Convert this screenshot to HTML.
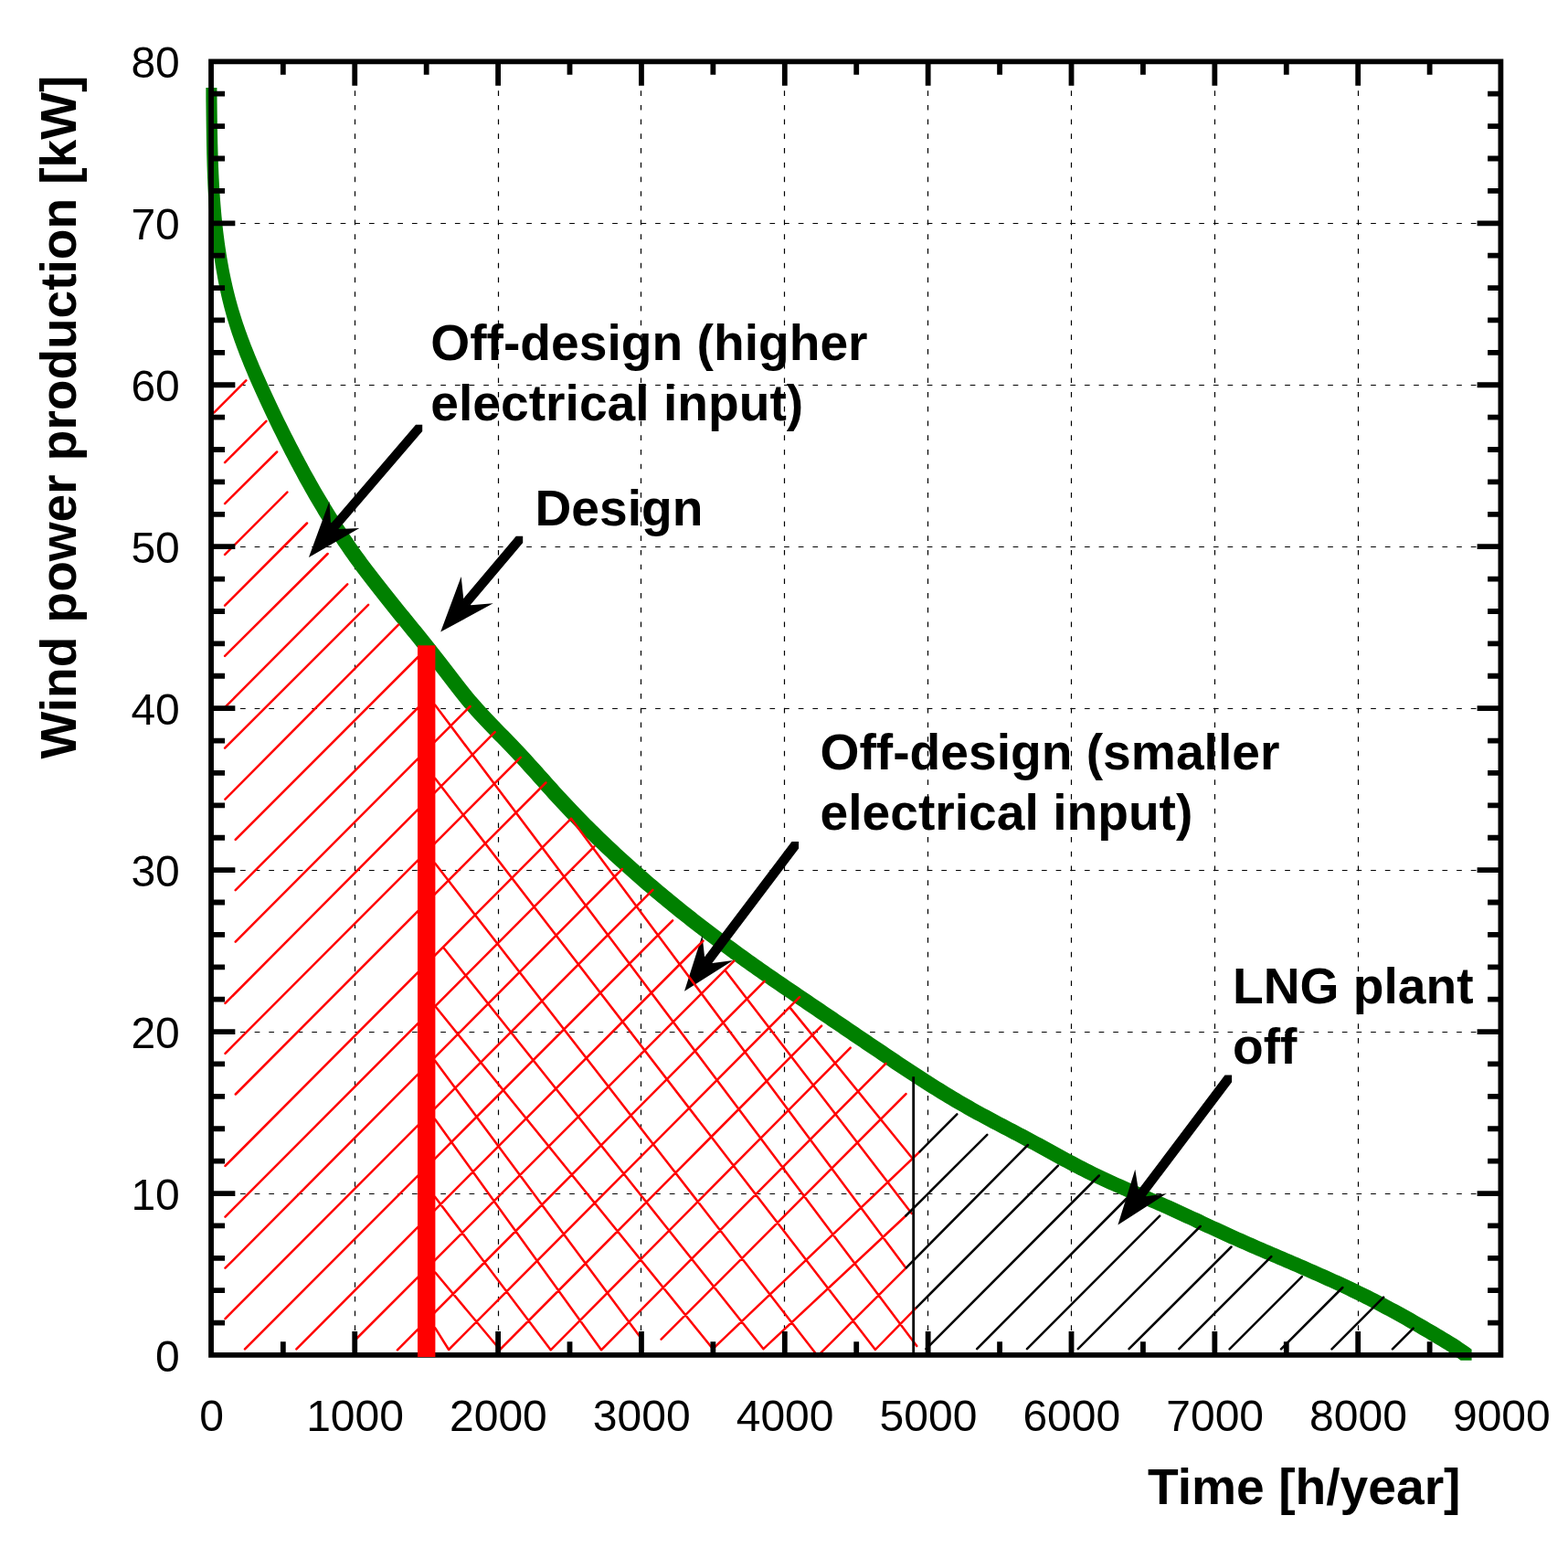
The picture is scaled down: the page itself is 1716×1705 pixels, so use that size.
<!DOCTYPE html><html><head><meta charset="utf-8"><title>Wind power production vs time</title><style>html,body{margin:0;padding:0;background:#fff}svg{display:block}text{font-family:"Liberation Sans",Arial,Helvetica,sans-serif}</style></head><body>
<svg width="1716" height="1705" viewBox="0 0 1716 1705">
<rect width="1716" height="1705" fill="#fff"/>
<path d="M388.5 67.78V1482.9M545.5 67.78V1482.9M701.5 67.78V1482.9M858.5 67.78V1482.9M1015.5 67.78V1482.9M1172.5 67.78V1482.9M1329.5 67.78V1482.9M1486.5 67.78V1482.9" stroke="#000" stroke-width="1.2" stroke-dasharray="5.7 10.01" fill="none"/>
<path d="M231.68 1306.5H1642.4M231.68 1129.5H1642.4M231.68 952.5H1642.4M231.68 775.5H1642.4M231.68 598.5H1642.4M231.68 421.5H1642.4M231.68 244.5H1642.4" stroke="#000" stroke-width="1.2" stroke-dasharray="5.7 9.96" fill="none"/>
<path d="M225.71 136.74L225.76 140.86L225.82 144.98L225.87 149.11L225.94 153.24L226.01 157.38L226.09 161.51L226.17 165.65L226.26 169.79L226.37 173.93L226.48 178.08L226.6 182.22L226.73 186.37L226.87 190.51L227.03 194.66L227.2 198.8L227.38 202.95L227.57 207.09L227.79 211.23L228.01 215.38L228.26 219.52L228.52 223.65L228.8 227.79L229.09 231.93L229.41 236.06L229.75 240.19L230.1 244.31L230.48 248.44L230.88 252.56L231.31 256.67L231.76 260.78L232.23 264.89L232.72 268.99L233.25 273.09L233.79 277.18L234.37 281.27L234.97 285.35L235.6 289.43L236.27 293.5L236.96 297.56L237.68 301.62L238.43 305.67L239.21 309.71L240.03 313.74L240.88 317.77L241.77 321.79L242.69 325.8L243.64 329.8L244.63 333.79L245.66 337.77L246.73 341.75L247.83 345.71L248.97 349.66L250.15 353.61L251.38 357.54L252.63 361.46L253.93 365.38L255.26 369.28L256.62 373.18L258.01 377.06L259.44 380.94L260.89 384.81L262.37 388.66L263.88 392.51L265.41 396.36L266.96 400.19L268.54 404.01L270.14 407.83L271.76 411.64L273.39 415.44L275.04 419.23L276.71 423.02L278.39 426.8L280.08 430.57L281.79 434.34L283.5 438.1L285.23 441.85L286.97 445.6L288.71 449.33L290.47 453.07L292.24 456.8L294.01 460.52L295.8 464.23L297.6 467.95L299.41 471.65L301.23 475.35L303.06 479.05L304.91 482.74L306.76 486.43L308.62 490.11L310.5 493.78L312.38 497.46L314.28 501.12L316.19 504.79L318.11 508.44L320.04 512.09L321.99 515.73L323.95 519.37L325.92 523L327.9 526.63L329.9 530.24L331.91 533.85L333.94 537.45L335.98 541.04L338.03 544.63L340.1 548.2L342.19 551.77L344.28 555.33L346.4 558.87L348.53 562.41L350.67 565.94L352.84 569.46L355.01 572.97L357.21 576.46L359.42 579.95L361.65 583.42L363.9 586.88L366.16 590.34L368.44 593.77L370.74 597.2L373.06 600.61L375.4 604.01L377.75 607.4L380.13 610.78L382.52 614.14L384.93 617.48L387.36 620.82L389.81 624.14L392.27 627.45L394.75 630.75L397.24 634.05L399.74 637.33L402.26 640.6L404.79 643.86L407.33 647.12L409.88 650.37L412.44 653.61L415.01 656.85L417.58 660.08L420.17 663.3L422.76 666.53L425.35 669.74L427.95 672.96L430.55 676.17L433.16 679.38L435.76 682.59L438.37 685.79L440.98 689L443.59 692.21L446.2 695.41L448.8 698.62L451.4 701.83L454 705.04L456.6 708.26L459.19 711.48L461.77 714.7L464.35 717.93L466.91 721.17L469.47 724.4L472.03 727.65L474.57 730.9L477.1 734.16L479.61 737.43L482.12 740.71L484.62 743.99L487.11 747.28L489.6 750.56L492.11 753.84L494.62 757.1L497.16 760.35L499.71 763.59L502.3 766.79L504.92 769.97L507.58 773.13L510.26 776.26L512.97 779.37L515.71 782.46L518.48 785.52L521.27 788.56L524.08 791.58L526.91 794.59L529.77 797.57L532.63 800.55L535.51 803.51L538.4 806.46L541.3 809.41L544.19 812.36L547.08 815.31L549.96 818.27L552.84 821.24L555.7 824.22L558.54 827.22L561.37 830.23L564.18 833.26L566.98 836.3L569.76 839.35L572.54 842.41L575.31 845.47L578.07 848.55L580.83 851.62L583.58 854.71L586.33 857.79L589.09 860.87L591.84 863.95L594.6 867.03L597.36 870.1L600.13 873.17L602.91 876.23L605.69 879.27L608.49 882.31L611.3 885.34L614.13 888.35L616.96 891.35L619.81 894.34L622.67 897.32L625.54 900.29L628.42 903.25L631.31 906.19L634.22 909.13L637.13 912.05L640.06 914.96L643 917.86L645.95 920.75L648.91 923.63L651.88 926.5L654.86 929.35L657.85 932.2L660.85 935.04L663.86 937.86L666.88 940.68L669.91 943.48L672.96 946.27L676.01 949.06L679.07 951.83L682.14 954.59L685.22 957.34L688.31 960.09L691.4 962.82L694.51 965.54L697.63 968.25L700.75 970.96L703.89 973.65L707.03 976.33L710.18 979L713.34 981.67L716.5 984.32L719.68 986.97L722.86 989.6L726.05 992.23L729.25 994.84L732.46 997.45L735.67 1000.05L738.89 1002.64L742.12 1005.22L745.36 1007.79L748.6 1010.35L751.85 1012.9L755.11 1015.44L758.37 1017.98L761.65 1020.51L764.92 1023.02L768.21 1025.53L771.5 1028.03L774.79 1030.53L778.09 1033.01L781.4 1035.49L784.72 1037.95L788.04 1040.41L791.36 1042.86L794.69 1045.31L798.03 1047.74L801.37 1050.17L804.72 1052.59L808.07 1055L811.43 1057.4L814.79 1059.8L818.15 1062.19L821.53 1064.57L824.9 1066.94L828.28 1069.3L831.67 1071.66L835.06 1074.01L838.45 1076.35L841.85 1078.69L845.25 1081.02L848.66 1083.34L852.07 1085.66L855.48 1087.98L858.89 1090.29L862.3 1092.61L865.72 1094.92L869.13 1097.23L872.54 1099.54L875.96 1101.85L879.37 1104.17L882.78 1106.48L886.2 1108.79L889.61 1111.11L893.02 1113.42L896.44 1115.73L899.85 1118.05L903.27 1120.36L906.68 1122.68L910.1 1124.99L913.51 1127.31L916.93 1129.62L920.34 1131.94L923.76 1134.25L927.18 1136.56L930.6 1138.88L934.02 1141.19L937.44 1143.5L940.86 1145.81L944.28 1148.13L947.7 1150.44L951.12 1152.75L954.54 1155.06L957.97 1157.37L961.4 1159.67L964.82 1161.98L968.25 1164.28L971.68 1166.58L975.12 1168.88L978.55 1171.17L982 1173.46L985.44 1175.74L988.89 1178.01L992.34 1180.28L995.8 1182.54L999.26 1184.79L1002.73 1187.03L1006.21 1189.26L1009.69 1191.49L1013.17 1193.7L1016.67 1195.9L1020.17 1198.08L1023.68 1200.26L1027.2 1202.42L1030.72 1204.56L1034.26 1206.7L1037.8 1208.81L1041.35 1210.91L1044.91 1213L1048.49 1215.06L1052.07 1217.11L1055.66 1219.14L1059.27 1221.16L1062.88 1223.15L1066.5 1225.14L1070.13 1227.11L1073.76 1229.07L1077.4 1231.02L1081.05 1232.96L1084.7 1234.9L1088.35 1236.83L1092 1238.75L1095.66 1240.68L1099.31 1242.6L1102.97 1244.52L1106.62 1246.45L1110.27 1248.37L1113.92 1250.31L1117.57 1252.24L1121.21 1254.19L1124.85 1256.14L1128.48 1258.11L1132.1 1260.08L1135.72 1262.06L1139.34 1264.05L1142.96 1266.03L1146.58 1268.02L1150.19 1270L1153.82 1271.97L1157.44 1273.94L1161.07 1275.9L1164.71 1277.84L1168.36 1279.77L1172.02 1281.69L1175.68 1283.58L1179.35 1285.46L1183.04 1287.32L1186.73 1289.16L1190.43 1290.98L1194.15 1292.77L1197.88 1294.54L1201.62 1296.29L1205.37 1298.02L1209.12 1299.73L1212.89 1301.42L1216.66 1303.1L1220.44 1304.77L1224.22 1306.43L1228.01 1308.08L1231.8 1309.72L1235.6 1311.35L1239.39 1312.98L1243.19 1314.62L1246.99 1316.25L1250.79 1317.88L1254.58 1319.51L1258.38 1321.15L1262.17 1322.8L1265.95 1324.46L1269.73 1326.12L1273.51 1327.8L1277.28 1329.5L1281.04 1331.2L1284.8 1332.92L1288.55 1334.65L1292.3 1336.38L1296.04 1338.13L1299.79 1339.87L1303.53 1341.62L1307.27 1343.38L1311.01 1345.13L1314.75 1346.88L1318.49 1348.63L1322.23 1350.37L1325.98 1352.11L1329.73 1353.84L1333.48 1355.56L1337.24 1357.27L1341.01 1358.97L1344.78 1360.66L1348.55 1362.34L1352.32 1364.01L1356.1 1365.68L1359.89 1367.34L1363.67 1368.99L1367.46 1370.64L1371.25 1372.28L1375.04 1373.92L1378.84 1375.56L1382.63 1377.19L1386.43 1378.82L1390.23 1380.45L1394.02 1382.08L1397.82 1383.71L1401.61 1385.34L1405.41 1386.97L1409.2 1388.6L1413 1390.24L1416.79 1391.87L1420.58 1393.52L1424.37 1395.17L1428.15 1396.82L1431.93 1398.48L1435.71 1400.15L1439.49 1401.82L1443.26 1403.5L1447.02 1405.19L1450.78 1406.89L1454.54 1408.61L1458.29 1410.33L1462.04 1412.06L1465.78 1413.81L1469.52 1415.57L1473.24 1417.34L1476.96 1419.13L1480.68 1420.93L1484.38 1422.75L1488.08 1424.58L1491.77 1426.43L1495.46 1428.3L1499.13 1430.19L1502.8 1432.09L1506.46 1434.01L1510.11 1435.94L1513.75 1437.89L1517.39 1439.85L1521.01 1441.83L1524.64 1443.82L1528.25 1445.82L1531.86 1447.84L1535.46 1449.86L1539.06 1451.9L1542.64 1453.95L1546.23 1456.01L1549.8 1458.07L1553.37 1460.15L1556.94 1462.23L1560.5 1464.32L1564.05 1466.42L1567.6 1468.53L1571.14 1470.64L1574.67 1472.78L1578.18 1474.93L1581.67 1477.12L1585.13 1479.35L1588.56 1481.63L1591.95 1483.95L1595.3 1486.34L1598.6 1488.8L1610.6 1488.8L1610.6 1476.8L1607.3 1474.34L1603.95 1471.95L1600.56 1469.63L1597.13 1467.35L1593.67 1465.12L1590.18 1462.93L1586.67 1460.78L1583.14 1458.64L1579.6 1456.53L1576.05 1454.42L1572.5 1452.32L1568.94 1450.23L1565.37 1448.15L1561.8 1446.07L1558.23 1444.01L1554.64 1441.95L1551.06 1439.9L1547.46 1437.86L1543.86 1435.84L1540.25 1433.82L1536.64 1431.82L1533.01 1429.83L1529.39 1427.85L1525.75 1425.89L1522.11 1423.94L1518.46 1422.01L1514.8 1420.09L1511.13 1418.19L1507.46 1416.3L1503.77 1414.43L1500.08 1412.58L1496.38 1410.75L1492.68 1408.93L1488.96 1407.13L1485.24 1405.34L1481.52 1403.57L1477.78 1401.81L1474.04 1400.06L1470.29 1398.33L1466.54 1396.61L1462.78 1394.89L1459.02 1393.19L1455.26 1391.5L1451.49 1389.82L1447.71 1388.15L1443.93 1386.48L1440.15 1384.82L1436.37 1383.17L1432.58 1381.52L1428.79 1379.87L1425 1378.24L1421.2 1376.6L1417.41 1374.97L1413.61 1373.34L1409.82 1371.71L1406.02 1370.08L1402.23 1368.45L1398.43 1366.82L1394.63 1365.19L1390.84 1363.56L1387.04 1361.92L1383.25 1360.28L1379.46 1358.64L1375.67 1356.99L1371.89 1355.34L1368.1 1353.68L1364.32 1352.01L1360.55 1350.34L1356.78 1348.66L1353.01 1346.97L1349.24 1345.27L1345.48 1343.56L1341.73 1341.84L1337.98 1340.11L1334.23 1338.37L1330.49 1336.63L1326.75 1334.88L1323.01 1333.13L1319.27 1331.38L1315.53 1329.62L1311.79 1327.87L1308.04 1326.13L1304.3 1324.38L1300.55 1322.65L1296.8 1320.92L1293.04 1319.2L1289.28 1317.5L1285.51 1315.8L1281.73 1314.12L1277.95 1312.46L1274.17 1310.8L1270.38 1309.15L1266.58 1307.51L1262.79 1305.88L1258.99 1304.25L1255.19 1302.62L1251.39 1300.98L1247.6 1299.35L1243.8 1297.72L1240.01 1296.08L1236.22 1294.43L1232.44 1292.77L1228.66 1291.1L1224.89 1289.42L1221.12 1287.73L1217.37 1286.02L1213.62 1284.29L1209.88 1282.54L1206.15 1280.77L1202.43 1278.98L1198.73 1277.16L1195.04 1275.32L1191.35 1273.46L1187.68 1271.58L1184.02 1269.69L1180.36 1267.77L1176.71 1265.84L1173.07 1263.9L1169.44 1261.94L1165.82 1259.97L1162.19 1258L1158.58 1256.02L1154.96 1254.03L1151.34 1252.05L1147.72 1250.06L1144.1 1248.08L1140.48 1246.11L1136.85 1244.14L1133.21 1242.19L1129.57 1240.24L1125.92 1238.31L1122.27 1236.37L1118.62 1234.45L1114.97 1232.52L1111.31 1230.6L1107.66 1228.68L1104 1226.75L1100.35 1224.83L1096.7 1222.9L1093.05 1220.96L1089.4 1219.02L1085.76 1217.07L1082.13 1215.11L1078.5 1213.14L1074.88 1211.15L1071.27 1209.16L1067.66 1207.14L1064.07 1205.11L1060.49 1203.06L1056.91 1201L1053.35 1198.91L1049.8 1196.81L1046.26 1194.7L1042.72 1192.56L1039.2 1190.42L1035.68 1188.26L1032.17 1186.08L1028.67 1183.9L1025.17 1181.7L1021.69 1179.49L1018.21 1177.26L1014.73 1175.03L1011.26 1172.79L1007.8 1170.54L1004.34 1168.28L1000.89 1166.01L997.44 1163.74L994 1161.46L990.55 1159.17L987.12 1156.88L983.68 1154.58L980.25 1152.28L976.82 1149.98L973.4 1147.67L969.97 1145.37L966.54 1143.06L963.12 1140.75L959.7 1138.44L956.28 1136.13L952.86 1133.81L949.44 1131.5L946.02 1129.19L942.6 1126.88L939.18 1124.56L935.76 1122.25L932.34 1119.94L928.93 1117.62L925.51 1115.31L922.1 1112.99L918.68 1110.68L915.27 1108.36L911.85 1106.05L908.44 1103.73L905.02 1101.42L901.61 1099.11L898.2 1096.79L894.78 1094.48L891.37 1092.17L887.96 1089.85L884.54 1087.54L881.13 1085.23L877.72 1082.92L874.3 1080.61L870.89 1078.29L867.48 1075.98L864.07 1073.66L860.66 1071.34L857.25 1069.02L853.85 1066.69L850.45 1064.35L847.06 1062.01L843.67 1059.66L840.28 1057.3L836.9 1054.94L833.53 1052.57L830.15 1050.19L826.79 1047.8L823.43 1045.4L820.07 1043L816.72 1040.59L813.37 1038.17L810.03 1035.74L806.69 1033.31L803.36 1030.86L800.04 1028.41L796.72 1025.95L793.4 1023.49L790.09 1021.01L786.79 1018.53L783.5 1016.03L780.21 1013.53L776.92 1011.02L773.65 1008.51L770.37 1005.98L767.11 1003.44L763.85 1000.9L760.6 998.35L757.36 995.79L754.12 993.22L750.89 990.64L747.67 988.05L744.46 985.45L741.25 982.84L738.05 980.23L734.86 977.6L731.68 974.97L728.5 972.32L725.34 969.67L722.18 967L719.03 964.33L715.89 961.65L712.75 958.96L709.63 956.25L706.51 953.54L703.4 950.82L700.31 948.09L697.22 945.34L694.14 942.59L691.07 939.83L688.01 937.06L684.96 934.27L681.91 931.48L678.88 928.68L675.86 925.86L672.85 923.04L669.85 920.2L666.86 917.35L663.88 914.5L660.91 911.63L657.95 908.75L655 905.86L652.06 902.96L649.13 900.05L646.22 897.13L643.31 894.19L640.42 891.25L637.54 888.29L634.67 885.32L631.81 882.34L628.96 879.35L626.13 876.35L623.3 873.34L620.49 870.31L617.69 867.27L614.91 864.23L612.13 861.17L609.36 858.1L606.6 855.03L603.84 851.95L601.09 848.87L598.33 845.79L595.58 842.71L592.83 839.62L590.07 836.55L587.31 833.47L584.54 830.41L581.76 827.35L578.98 824.3L576.18 821.26L573.37 818.23L570.54 815.22L567.7 812.22L564.84 809.24L561.96 806.27L559.08 803.31L556.19 800.36L553.3 797.41L550.4 794.46L547.51 791.51L544.63 788.55L541.77 785.57L538.91 782.59L536.08 779.58L533.27 776.56L530.48 773.52L527.71 770.46L524.97 767.37L522.26 764.26L519.58 761.13L516.92 757.97L514.3 754.79L511.71 751.59L509.16 748.35L506.62 745.1L504.11 741.84L501.6 738.56L499.11 735.28L496.62 731.99L494.12 728.71L491.61 725.43L489.1 722.16L486.57 718.9L484.03 715.65L481.47 712.4L478.91 709.17L476.35 705.93L473.77 702.7L471.19 699.48L468.6 696.26L466 693.04L463.4 689.83L460.8 686.62L458.2 683.41L455.59 680.21L452.98 677L450.37 673.79L447.76 670.59L445.16 667.38L442.55 664.17L439.95 660.96L437.35 657.74L434.76 654.53L432.17 651.3L429.58 648.08L427.01 644.85L424.44 641.61L421.88 638.37L419.33 635.12L416.79 631.86L414.26 628.6L411.74 625.33L409.24 622.05L406.75 618.75L404.27 615.45L401.81 612.14L399.36 608.82L396.93 605.48L394.52 602.14L392.13 598.78L389.75 595.4L387.4 592.01L385.06 588.61L382.74 585.2L380.44 581.77L378.16 578.34L375.9 574.88L373.65 571.42L371.42 567.95L369.21 564.46L367.01 560.97L364.84 557.46L362.67 553.94L360.53 550.41L358.4 546.87L356.28 543.33L354.19 539.77L352.1 536.2L350.03 532.63L347.98 529.04L345.94 525.45L343.91 521.85L341.9 518.24L339.9 514.63L337.92 511L335.95 507.37L333.99 503.73L332.04 500.09L330.11 496.44L328.19 492.79L326.28 489.12L324.38 485.46L322.5 481.78L320.62 478.11L318.76 474.43L316.91 470.74L315.06 467.05L313.23 463.35L311.41 459.65L309.6 455.95L307.8 452.23L306.01 448.52L304.24 444.8L302.47 441.07L300.71 437.33L298.97 433.6L297.23 429.85L295.5 426.1L293.79 422.34L292.08 418.57L290.39 414.8L288.71 411.02L287.04 407.23L285.39 403.44L283.76 399.64L282.14 395.83L280.54 392.01L278.96 388.19L277.41 384.36L275.88 380.51L274.37 376.66L272.89 372.81L271.44 368.94L270.01 365.06L268.62 361.18L267.26 357.28L265.93 353.38L264.63 349.46L263.38 345.54L262.15 341.61L260.97 337.66L259.83 333.71L258.73 329.75L257.66 325.77L256.63 321.79L255.64 317.8L254.69 313.8L253.77 309.79L252.88 305.77L252.03 301.74L251.21 297.71L250.43 293.67L249.68 289.62L248.96 285.56L248.27 281.5L247.6 277.43L246.97 273.35L246.37 269.27L245.79 265.18L245.25 261.09L244.72 256.99L244.23 252.89L243.76 248.78L243.31 244.67L242.88 240.56L242.48 236.44L242.1 232.31L241.75 228.19L241.41 224.06L241.09 219.93L240.8 215.79L240.52 211.65L240.26 207.52L240.01 203.38L239.79 199.23L239.57 195.09L239.38 190.95L239.2 186.8L239.03 182.66L238.87 178.51L238.73 174.37L238.6 170.22L238.48 166.08L238.37 161.93L238.26 157.79L238.17 153.65L238.09 149.51L238.01 145.38L237.94 141.24L237.87 137.11L237.82 132.98L237.76 128.86L237.71 124.74L237.66 120.62L237.62 116.5L237.57 112.39L237.53 108.29L237.49 104.19L237.44 100.09L237.4 96L225.4 96L225.4 108L225.44 112.09L225.49 116.19L225.53 120.29L225.57 124.39L225.62 128.5L225.66 132.62Z" fill="#008000"/>
<path d="M362.76 572.33L361.9 571.6L360.4 548.7L337.9 610L393.3 578.1L370.8 579.1L370.53 578.87L462.2 472L462.2 464.8L455 464.8ZM507.25 654.89L504.7 631L482.2 691.6L539.7 660.3L515.4 662.2L515 661.86L572.2 594.1L572.2 586.7L564.8 586.7ZM771.09 1047.14L768.5 1023.5L749 1084.7L802.3 1050.9L779.6 1054.1L779.34 1053.89L874.1 928.6L874.1 921L866.5 921ZM1246.07 1301.82L1245.7 1301.5L1242.3 1279.8L1223.4 1340.5L1276.9 1306L1254.6 1309.3L1254.1 1308.86L1348.1 1184.2L1348.1 1176.6L1340.5 1176.6Z" fill="#000"/>
<path d="M234.4 451.3L269.3 416.4M246.1 506.2L291.4 460.8M246.1 551.1L303.1 494.5M246.1 606.9L314.4 538.6M246.1 662.6L336 572.5M246.1 717.8L358.6 606M246.1 774.1L380.2 639.3M246.1 818.7L403.1 661.8M246.4 874.6L436.1 683.6M257.7 918.8L458 718.5M257.7 974.2L458 774M257.7 1030.6L514.5 773M246.5 1097.9L541.6 801.2M246.5 1152.8L569.7 828.8M257.8 1197.5L597.4 856.5M246.5 1275.9L625 895.8M246.5 1331.6L650.4 926.3M246.5 1387.7L680.9 951M246.5 1443.1L714.4 973.8M268 1476.4L736.1 1007.3M324.4 1476.4L769.5 1029.6M390.1 1465L803.3 1051.7M434.9 1477.3L836.6 1073.8M491.1 1477L875.1 1091.2M547.1 1477L899.1 1122.6M602.7 1477.3L930.7 1146.6M658 1477.3L969.4 1163.8M723.6 1465.7L991.5 1197.1M780.2 1476.2L1006.5 1260.4M835.5 1476.2L991.3 1330.5M894.9 1483.9L991.8 1387.3M957.9 1477L1002.8 1431.1M476.1 771.5L1003.3 1473M476.1 851.7L957.9 1477M476.1 944.8L894.9 1483.9M485.5 1037.3L835.5 1476.2M476 1100.7L780.2 1476.2M476 1160.8L701.9 1465M476 1224.7L658 1477.3M476 1309.7L602.7 1477.3M476.3 1392.5L547.1 1477M476.3 1453.4L491.1 1477M625 895.8L991.3 1387.5M793.8 1062.2L997.8 1328M865.1 1103.4L998 1267" stroke="#ff0000" stroke-width="2.5" stroke-linecap="round" fill="none"/>
<path d="M1006.5 1260.4L1047.3 1219.3M991.3 1330.5L1080.3 1241.8M991.8 1387.3L1124.9 1253M1002.8 1431.1L1157.9 1275.7M1013.5 1476.2L1202.8 1286.5M1069.2 1476.2L1233 1311.5M1124 1476.2L1269.2 1330.7M1179.8 1476.2L1313.7 1342M1235.6 1476.2L1347.5 1364.5M1290.4 1476.2L1391.3 1375.2M1345.6 1476.3L1424.8 1397.1M1402 1476.3L1469.3 1409M1457.5 1476.3L1514.1 1419.7M1523.9 1476.3L1546.7 1453.6" stroke="#000" stroke-width="2.5" stroke-linecap="round" fill="none"/>
<path d="M999.7 1178.3V1483" stroke="#000" stroke-width="2.8"/>
<path d="M231.05 67.35H1642.4V1482.9H231.05Z" stroke="#000" stroke-width="5.8" fill="none" stroke-linejoin="miter"/>
<path d="M231.05 1447.61h15.0M1642.4 1447.61h-14.3M231.05 1412.22h15.0M1642.4 1412.22h-14.3M231.05 1376.82h15.0M1642.4 1376.82h-14.3M231.05 1341.43h15.0M1642.4 1341.43h-14.3M231.05 1306.04h26.3M1642.4 1306.04h-25.8M231.05 1270.65h15.0M1642.4 1270.65h-14.3M231.05 1235.26h15.0M1642.4 1235.26h-14.3M231.05 1199.86h15.0M1642.4 1199.86h-14.3M231.05 1164.47h15.0M1642.4 1164.47h-14.3M231.05 1129.08h26.3M1642.4 1129.08h-25.8M231.05 1093.69h15.0M1642.4 1093.69h-14.3M231.05 1058.3h15.0M1642.4 1058.3h-14.3M231.05 1022.9h15.0M1642.4 1022.9h-14.3M231.05 987.51h15.0M1642.4 987.51h-14.3M231.05 952.12h26.3M1642.4 952.12h-25.8M231.05 916.73h15.0M1642.4 916.73h-14.3M231.05 881.34h15.0M1642.4 881.34h-14.3M231.05 845.94h15.0M1642.4 845.94h-14.3M231.05 810.55h15.0M1642.4 810.55h-14.3M231.05 775.16h26.3M1642.4 775.16h-25.8M231.05 739.77h15.0M1642.4 739.77h-14.3M231.05 704.38h15.0M1642.4 704.38h-14.3M231.05 668.98h15.0M1642.4 668.98h-14.3M231.05 633.59h15.0M1642.4 633.59h-14.3M231.05 598.2h26.3M1642.4 598.2h-25.8M231.05 562.81h15.0M1642.4 562.81h-14.3M231.05 527.42h15.0M1642.4 527.42h-14.3M231.05 492.02h15.0M1642.4 492.02h-14.3M231.05 456.63h15.0M1642.4 456.63h-14.3M231.05 421.24h26.3M1642.4 421.24h-25.8M231.05 385.85h15.0M1642.4 385.85h-14.3M231.05 350.46h15.0M1642.4 350.46h-14.3M231.05 315.06h15.0M1642.4 315.06h-14.3M231.05 279.67h15.0M1642.4 279.67h-14.3M231.05 244.28h26.3M1642.4 244.28h-25.8M231.05 208.89h15.0M1642.4 208.89h-14.3M231.05 173.5h15.0M1642.4 173.5h-14.3M231.05 138.1h15.0M1642.4 138.1h-14.3M231.05 102.71h15.0M1642.4 102.71h-14.3M309.82 67.35v14.3M309.82 1482.9v-14.6M388.25 67.35v26.5M388.25 1482.9v-25.9M466.67 67.35v14.3M466.67 1482.9v-14.6M545.1 67.35v26.5M545.1 1482.9v-25.9M623.52 67.35v14.3M623.52 1482.9v-14.6M701.95 67.35v26.5M701.95 1482.9v-25.9M780.37 67.35v14.3M780.37 1482.9v-14.6M858.8 67.35v26.5M858.8 1482.9v-25.9M937.22 67.35v14.3M937.22 1482.9v-14.6M1015.65 67.35v26.5M1015.65 1482.9v-25.9M1094.08 67.35v14.3M1094.08 1482.9v-14.6M1172.5 67.35v26.5M1172.5 1482.9v-25.9M1250.92 67.35v14.3M1250.92 1482.9v-14.6M1329.35 67.35v26.5M1329.35 1482.9v-25.9M1407.78 67.35v14.3M1407.78 1482.9v-14.6M1486.2 67.35v26.5M1486.2 1482.9v-25.9M1564.62 67.35v14.3M1564.62 1482.9v-14.6" stroke="#000" stroke-width="5.8" fill="none" stroke-linecap="butt"/>
<rect x="457" y="706.3" width="19.4" height="778.7" fill="#ff0000"/>
<text x="471.3" y="393.6" font-weight="bold" font-size="55.2">Off-design (higher</text>
<text x="471.3" y="460" font-weight="bold" font-size="55.2">electrical input)</text>
<text x="585.5" y="575.1" font-weight="bold" font-size="55.2">Design</text>
<text x="897.5" y="841.9" font-weight="bold" font-size="55.2">Off-design (smaller</text>
<text x="897.5" y="908" font-weight="bold" font-size="55.2">electrical input)</text>
<text x="1349" y="1097.7" font-weight="bold" font-size="55.2">LNG plant</text>
<text x="1349" y="1164.1" font-weight="bold" font-size="55.2">off</text>
<text x="1256" y="1645.7" font-weight="bold" font-size="55.2">Time [h/year]</text>
<text transform="translate(83.1 830.6) rotate(-90)" font-weight="bold" font-size="55">Wind power production [kW]</text>
<text x="196.8" y="1500.9" font-size="48" text-anchor="end">0</text>
<text x="196.8" y="1323.94" font-size="48" text-anchor="end">10</text>
<text x="196.8" y="1146.98" font-size="48" text-anchor="end">20</text>
<text x="196.8" y="970.02" font-size="48" text-anchor="end">30</text>
<text x="196.8" y="793.06" font-size="48" text-anchor="end">40</text>
<text x="196.8" y="616.1" font-size="48" text-anchor="end">50</text>
<text x="196.8" y="439.14" font-size="48" text-anchor="end">60</text>
<text x="196.8" y="262.18" font-size="48" text-anchor="end">70</text>
<text x="196.8" y="85.22" font-size="48" text-anchor="end">80</text>
<text x="231.7" y="1565.5" font-size="48" text-anchor="middle">0</text>
<text x="388.55" y="1565.5" font-size="48" text-anchor="middle">1000</text>
<text x="545.4" y="1565.5" font-size="48" text-anchor="middle">2000</text>
<text x="702.25" y="1565.5" font-size="48" text-anchor="middle">3000</text>
<text x="859.1" y="1565.5" font-size="48" text-anchor="middle">4000</text>
<text x="1015.95" y="1565.5" font-size="48" text-anchor="middle">5000</text>
<text x="1172.8" y="1565.5" font-size="48" text-anchor="middle">6000</text>
<text x="1329.65" y="1565.5" font-size="48" text-anchor="middle">7000</text>
<text x="1486.5" y="1565.5" font-size="48" text-anchor="middle">8000</text>
<text x="1643.35" y="1565.5" font-size="48" text-anchor="middle">9000</text>
</svg></body></html>
